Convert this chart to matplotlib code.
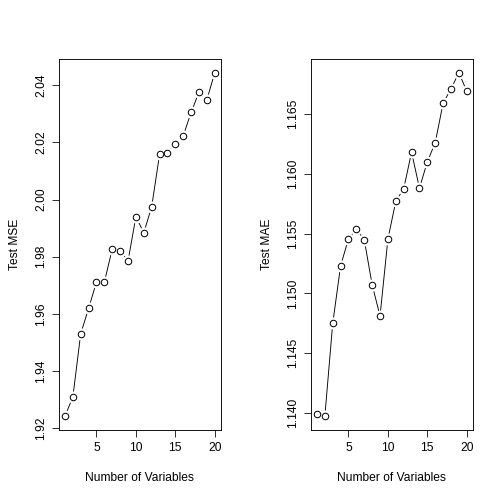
import numpy as np
import matplotlib
matplotlib.use("Agg")
import matplotlib.pyplot as plt

n_vars = list(range(1, 21))
test_mse = [1.9242, 1.9309, 1.9531, 1.9619, 1.9712, 1.9712, 1.9827, 1.9821, 1.9785, 1.9940,
            1.9884, 1.9975, 2.0158, 2.0164, 2.0196, 2.0223, 2.0305, 2.0376, 2.0349, 2.0444]
test_mae = [1.13995, 1.13973, 1.14749, 1.15231, 1.15456, 1.15537, 1.15448, 1.15072, 1.14811, 1.15454,
            1.15770, 1.15874, 1.16180, 1.15880, 1.16100, 1.16260, 1.16590, 1.16710, 1.16845, 1.16690]
mse_ticks = [1.92, 1.94, 1.96, 1.98, 2.00, 2.02, 2.04]
mae_ticks = [1.140, 1.145, 1.150, 1.155, 1.160, 1.165]
x_ticks = [5, 10, 15, 20]

plt.rcParams['font.family'] = ['Liberation Sans', 'DejaVu Sans']
plt.rcParams['font.size'] = 12

fig = plt.figure(figsize=(7, 7), dpi=72)


def r_plot(ax, x, y, yticks, fmt, ylabel):
    # type="b": line with gaps around open points
    ax.plot(x, y, color='black', lw=0.9, zorder=1)
    ax.plot(x, y, ls='none', marker='o', ms=11, mfc='white', mec='white', zorder=2)
    ax.plot(x, y, ls='none', marker='o', ms=6.5, mfc='white', mec='black', mew=1.0, zorder=3)
    xr = max(x) - min(x)
    ax.set_xlim(min(x) - 0.04 * xr, max(x) + 0.04 * xr)
    yr = max(y) - min(y)
    ax.set_ylim(min(y) - 0.04 * yr, max(y) + 0.04 * yr)
    ax.set_xticks(x_ticks)
    ax.set_yticks(yticks)
    ax.set_yticklabels([fmt.format(v) for v in yticks], rotation=90, va='center')
    ax.tick_params(direction='out', length=7, width=0.8, colors='black', pad=5)
    for s in ax.spines.values():
        s.set_linewidth(0.9)
    ax.set_xlabel('Number of Variables', labelpad=18)
    ax.set_ylabel(ylabel, labelpad=14)


ax1 = fig.add_axes([0.117, 0.147, 0.321, 0.736])
r_plot(ax1, n_vars, test_mse, mse_ticks, '{:.2f}', 'Test MSE')

ax2 = fig.add_axes([0.617, 0.147, 0.321, 0.736])
r_plot(ax2, n_vars, test_mae, mae_ticks, '{:.3f}', 'Test MAE')

fig.savefig('out.png', dpi=72)
